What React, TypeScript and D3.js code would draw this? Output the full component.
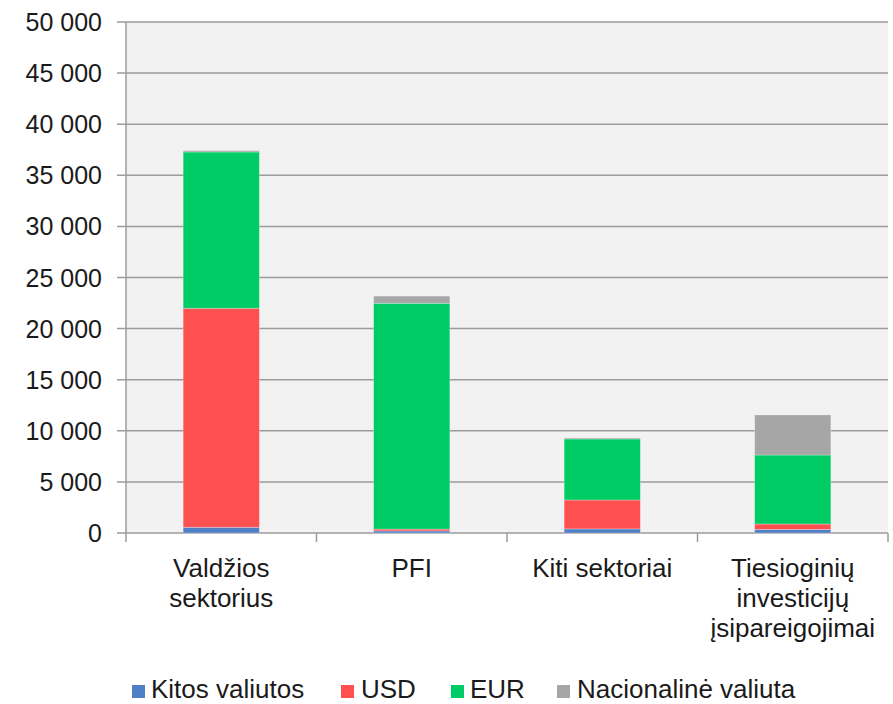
import React from "react";
import * as d3 from "d3";

const categories: string[][] = [
  ["Valdžios", "sektorius"],
  ["PFI"],
  ["Kiti sektoriai"],
  ["Tiesioginių", "investicijų", "įsipareigojimai"],
];
const seriesNames = ["Kitos valiutos", "USD", "EUR", "Nacionalinė valiuta"];
const seriesColors = ["#4F7FC4", "#FF5050", "#00CC66", "#A6A6A6"];
const kitos = [560, 200, 400, 350];
const usd = [21430, 180, 2830, 530];
const eur = [15290, 22100, 5970, 6750];
const nacionaline = [130, 700, 100, 3920];
const yTicks = [0, 5000, 10000, 15000, 20000, 25000, 30000, 35000, 40000, 45000, 50000];

const W = 893;
const H = 704;
const left = 126;
const right = 888;
const top = 22;
const bottom = 533;
const font = "'Liberation Sans', Arial, sans-serif";

export default function App() {
  const x = d3
    .scaleBand<number>()
    .domain(d3.range(categories.length))
    .range([left, right])
    .paddingInner(0)
    .paddingOuter(0);
  const y = d3.scaleLinear().domain([0, 50000]).range([bottom, top]);
  const fmt = (v: number) => d3.format(",")(v).replace(/,/g, " ");

  const rows = categories.map((_, i) => ({
    k: kitos[i],
    u: usd[i],
    e: eur[i],
    n: nacionaline[i],
  }));
  const stack = d3.stack<any>().keys(["k", "u", "e", "n"])(rows);
  const bw = x.bandwidth() * 0.4;

  const legendSq = [132, 341, 451, 557];
  const legendTx = [151, 361, 470, 577];

  return (
    <svg width={W} height={H} style={{ position: "absolute", left: 0, top: 0 }}>
      <rect x={0} y={0} width={W} height={H} fill="#ffffff" />
      <rect x={left} y={top} width={right - left} height={bottom - top} fill="#F2F2F2" />
      {yTicks.map((t) => (
        <g key={t}>
          <line x1={left - 9} x2={right} y1={y(t)} y2={y(t)} stroke="#9B9B9B" strokeWidth={1.5} />
          <text x={102} y={y(t) + 9} textAnchor="end" fontFamily={font} fontSize={25} fill="#1a1a1a">
            {fmt(t)}
          </text>
        </g>
      ))}
      <line x1={left} x2={left} y1={top} y2={bottom} stroke="#9B9B9B" strokeWidth={1.5} />
      {stack.map((s, si) =>
        s.map((d, i) => (
          <rect
            key={si + "-" + i}
            x={(x(i) as number) + (x.bandwidth() - bw) / 2}
            y={y(d[1])}
            width={bw}
            height={Math.max(0, y(d[0]) - y(d[1]))}
            fill={seriesColors[si]}
            stroke="rgba(255,255,255,0.35)"
            strokeWidth={0.8}
          />
        ))
      )}
      {d3.range(categories.length + 1).map((i) => {
        const xx = i < categories.length ? (x(i) as number) : right;
        return <line key={i} x1={xx} x2={xx} y1={bottom} y2={bottom + 9} stroke="#9B9B9B" strokeWidth={1.5} />;
      })}
      {categories.map((lines, i) => (
        <text key={i} textAnchor="middle" fontFamily={font} fontSize={26} fill="#1a1a1a">
          {lines.map((l, j) => (
            <tspan key={j} x={(x(i) as number) + x.bandwidth() / 2} y={577 + j * 30}>
              {l}
            </tspan>
          ))}
        </text>
      ))}
      {seriesNames.map((n, i) => (
        <g key={n}>
          <rect x={legendSq[i]} y={685} width={13} height={13} fill={seriesColors[i]} />
          <text x={legendTx[i]} y={698} fontFamily={font} fontSize={26} fill="#1a1a1a">
            {n}
          </text>
        </g>
      ))}
    </svg>
  );
}
